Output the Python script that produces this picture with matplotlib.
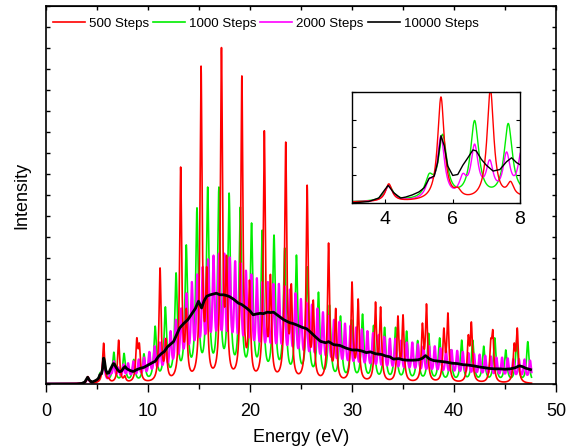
import numpy as np
import matplotlib
matplotlib.use("Agg")
import matplotlib.pyplot as plt
from matplotlib.lines import Line2D

plt.rcParams["font.family"] = ["Liberation Sans", "DejaVu Sans"]

# peak centres (eV) and peak heights (arbitrary units, 1.0 = top of frame)
red_centers = [4.1, 5.65, 6.15, 7.12, 7.72,
               8.9, 9.15, 11.18, 11.75, 13.2,
               13.75, 15.2, 15.75, 17.2, 17.7,
               19.2, 19.95, 21.4, 22.0, 23.5,
               24.05, 25.6, 26.2, 27.7, 28.4,
               30.0, 30.6, 32.3, 32.8, 34.5,
               35.0, 36.9, 37.3, 39.0, 39.4,
               41.4, 41.7, 43.6, 43.8, 45.9,
               46.2]
red_heights = [0.0195, 0.108, 0.016, 0.116, 0.022,
               0.122, 0.108, 0.307, 0.12, 0.574,
               0.2, 0.841, 0.31, 0.89, 0.34,
               0.815, 0.275, 0.67, 0.29, 0.64,
               0.265, 0.526, 0.222, 0.373, 0.2,
               0.27, 0.225, 0.217, 0.204, 0.18,
               0.183, 0.161, 0.212, 0.148, 0.188,
               0.13, 0.164, 0.119, 0.143, 0.108,
               0.148]

green_centers = [4.1, 5.3, 5.7, 6.65, 7.65,
                 8.6, 9.6, 10.7, 11.7, 12.75,
                 13.75, 14.8, 15.85, 16.95, 17.95,
                 19.05, 20.15, 21.2, 22.35, 23.4,
                 24.55, 25.63, 26.71, 27.79, 28.87,
                 29.95, 31.03, 32.11, 33.19, 34.27,
                 35.35, 36.43, 37.51, 38.59, 39.67,
                 40.75, 41.83, 42.91, 43.99, 45.07,
                 46.15, 47.23]
green_heights = [0.018, 0.03, 0.07, 0.084, 0.081,
                 0.065, 0.08, 0.153, 0.204, 0.294,
                 0.368, 0.466, 0.521, 0.521, 0.505,
                 0.468, 0.426, 0.407, 0.394, 0.36,
                 0.341, 0.31, 0.243, 0.209, 0.18,
                 0.17, 0.185, 0.155, 0.15, 0.15,
                 0.14, 0.115, 0.134, 0.122, 0.09,
                 0.116, 0.116, 0.1, 0.122, 0.09,
                 0.116, 0.112]

magenta_centers = [4.1, 5.3, 5.65, 6.3, 6.65, 7.1, 7.6,
                   8.05, 8.57, 9.09, 9.61, 10.13, 10.65, 11.17, 11.69, 12.21, 12.73,
                   13.25, 13.77, 14.3, 14.83, 15.36, 15.89, 16.42, 16.95, 17.48, 18.01,
                   18.54, 19.07, 19.6, 20.13, 20.67, 21.21, 21.75, 22.29, 22.83, 23.37,
                   23.91, 24.45, 24.99, 25.53, 26.07, 26.61, 27.15, 27.69, 28.23, 28.77,
                   29.31, 29.86, 30.41, 30.96, 31.51, 32.06, 32.61, 33.16, 33.71, 34.26,
                   34.81, 35.36, 35.91, 36.46, 37.01, 37.56, 38.11, 38.66, 39.21, 39.76,
                   40.31, 40.86, 41.41, 41.96, 42.51, 43.06, 43.61, 44.16, 44.71, 45.26,
                   45.81, 46.36, 46.91, 47.46]
magenta_heights = [0.018, 0.025, 0.068, 0.03, 0.06, 0.044, 0.052,
                   0.055, 0.06, 0.065, 0.07, 0.085, 0.1, 0.11, 0.12, 0.14, 0.17,
                   0.2, 0.24, 0.27, 0.29, 0.31, 0.33, 0.34, 0.345, 0.345, 0.335,
                   0.325, 0.32, 0.3, 0.29, 0.28, 0.27, 0.27, 0.265, 0.265, 0.26,
                   0.25, 0.24, 0.225, 0.215, 0.21, 0.2, 0.19, 0.18, 0.17, 0.165,
                   0.16, 0.155, 0.15, 0.145, 0.14, 0.135, 0.13, 0.125, 0.12, 0.12,
                   0.115, 0.11, 0.11, 0.105, 0.1, 0.1, 0.1, 0.095, 0.09, 0.09,
                   0.088, 0.085, 0.082, 0.08, 0.078, 0.075, 0.073, 0.07, 0.07, 0.068,
                   0.066, 0.066, 0.065, 0.062]

# 10000 steps curve, read point by point
black_energy = [0.0, 3.0, 3.5, 3.8, 4.0, 4.08, 4.25, 4.45, 4.6, 4.8,
                5.0, 5.15, 5.3, 5.45, 5.55, 5.65, 5.75, 5.85, 6.0, 6.15,
                6.3, 6.45, 6.6, 6.7, 6.85, 7.0, 7.2, 7.4, 7.6, 7.75,
                7.9, 8.0, 8.3, 8.55, 8.9, 9.2, 9.6, 10.0, 10.4, 10.7,
                11.0, 11.3, 11.6, 11.9, 12.2, 12.5, 12.8, 13.1, 13.5, 13.9,
                14.3, 14.65, 14.95, 15.25, 15.5, 15.75, 16.1, 16.4, 16.7, 17.05,
                17.4, 17.7, 18.0, 18.4, 18.85, 19.2, 19.7, 20.0, 20.3, 20.6,
                21.0, 21.3, 21.7, 22.0, 22.3, 22.8, 23.3, 23.9, 24.2, 24.6,
                25.1, 25.55, 25.9, 26.4, 26.9, 27.4, 27.7, 28.2, 28.8, 29.4,
                30.0, 30.5, 31.0, 31.4, 31.8, 32.3, 32.9, 33.3, 33.7, 34.05,
                34.6, 35.0, 35.4, 36.0, 36.5, 36.9, 37.2, 37.6, 38.0, 38.6,
                39.2, 39.8, 40.3, 40.9, 41.4, 41.9, 42.5, 43.0, 43.5, 44.0,
                44.5, 45.0, 45.5, 46.0, 46.4, 46.7, 47.0, 47.5]
black_intensity = [0.0, 0.0, 0.0014, 0.005, 0.0144, 0.0178, 0.0103, 0.005, 0.006, 0.0082,
                   0.0113, 0.0154, 0.025, 0.0274, 0.041, 0.0685, 0.058, 0.0377, 0.028, 0.029,
                   0.0384, 0.046, 0.054, 0.053, 0.0445, 0.0384, 0.0325, 0.034, 0.042, 0.046,
                   0.041, 0.039, 0.035, 0.033, 0.038, 0.041, 0.044, 0.05, 0.056, 0.06,
                   0.072, 0.08, 0.086, 0.098, 0.105, 0.112, 0.13, 0.148, 0.16, 0.17,
                   0.186, 0.2, 0.219, 0.201, 0.22, 0.232, 0.236, 0.238, 0.24, 0.236,
                   0.236, 0.234, 0.231, 0.224, 0.214, 0.21, 0.2, 0.193, 0.183, 0.185,
                   0.187, 0.186, 0.19, 0.189, 0.19, 0.18, 0.17, 0.162, 0.16, 0.156,
                   0.15, 0.146, 0.138, 0.125, 0.113, 0.109, 0.112, 0.104, 0.102, 0.095,
                   0.09, 0.09, 0.087, 0.083, 0.085, 0.08, 0.078, 0.074, 0.072, 0.066,
                   0.067, 0.064, 0.063, 0.063, 0.064, 0.068, 0.075, 0.066, 0.062, 0.06,
                   0.058, 0.055, 0.054, 0.051, 0.05, 0.048, 0.045, 0.043, 0.041, 0.04,
                   0.04, 0.039, 0.04, 0.043, 0.048, 0.046, 0.042, 0.038]

labels = ["500 Steps", "1000 Steps", "2000 Steps", "10000 Steps"]
colors = ["#ff0000", "#00ee00", "#ff00ff", "#000000"]


def broadened(x, centers, heights, width):
    # Lorentzian lines whose summed value at each centre equals the read height
    c = np.asarray(centers)
    h = np.asarray(heights)
    m = width**2 / ((c[:, None] - c[None, :])**2 + width**2)
    amps = np.linalg.solve(m, h)
    return (amps * width**2 / ((x[:, None] - c[None, :])**2 + width**2)).sum(axis=1)


energy = np.arange(0.0, 47.6, 0.005)
red = broadened(energy, red_centers, red_heights, 0.12)
green = broadened(energy, green_centers, green_heights, 0.15)
magenta = broadened(energy, magenta_centers, magenta_heights, 0.13)

fig = plt.figure(figsize=(5.73, 4.48), dpi=100)
ax = fig.add_axes([0.0803, 0.1429, 0.8901, 0.8437])

ax.plot(energy, green, color=colors[1], lw=1.2)
ax.plot(energy, magenta, color=colors[2], lw=1.6)
ax.plot(energy, red, color=colors[0], lw=1.2)
ax.plot(black_energy, black_intensity, color=colors[3], lw=2.0)

ax.set_xlim(0, 50)
ax.set_ylim(0, 1)
ax.set_xticks(np.arange(0, 51, 10))
ax.set_xticks(np.arange(5, 50, 10), minor=True)
ax.set_yticks(np.linspace(0, 1, 19))
ax.set_yticklabels([])
ax.tick_params(axis="x", which="major", direction="out", length=6, width=1, labelsize=13, pad=8)
ax.tick_params(axis="x", which="minor", direction="out", length=3.5, width=1)
ax.tick_params(axis="y", which="major", direction="in", length=3, width=1, right=True)
for s in ax.spines.values():
    s.set_linewidth(1.2)

top = ax.secondary_xaxis("top")
top.set_xticks(np.arange(0, 51, 5))
top.tick_params(direction="in", length=3, width=1, labeltop=False)

ax.set_xlabel("Energy (eV)", fontsize=13, labelpad=6)
ax.set_ylabel("Intensity", fontsize=13, labelpad=8)

handles = [Line2D([], [], color=c, lw=1.2) for c in colors]
ax.legend(handles, labels, loc="upper left", bbox_to_anchor=(-0.005, 0.995), ncol=4,
          frameon=False, fontsize=9.6, handlelength=2.4, handletextpad=0.3,
          columnspacing=0.3, borderaxespad=0.3)

# inset: low energy region
ins = fig.add_axes([0.614, 0.547, 0.2935, 0.2476])
ins.plot(energy, green, color=colors[1], lw=1.0)
ins.plot(energy, magenta, color=colors[2], lw=1.0)
ins.plot(energy, red, color=colors[0], lw=1.0)
ins.plot(black_energy, black_intensity, color=colors[3], lw=1.0)
ins.set_xlim(3, 8)
ins.set_ylim(0, 0.113)
ins.set_xticks([4, 6, 8])
ins.set_yticks(np.linspace(0, 0.113, 5))
ins.set_yticklabels([])
ins.tick_params(axis="x", direction="in", length=3, labelsize=14, pad=6)
ins.tick_params(axis="y", direction="in", length=3, right=True)
for s in ins.spines.values():
    s.set_linewidth(1.0)

fig.savefig("out.png", dpi=100)
